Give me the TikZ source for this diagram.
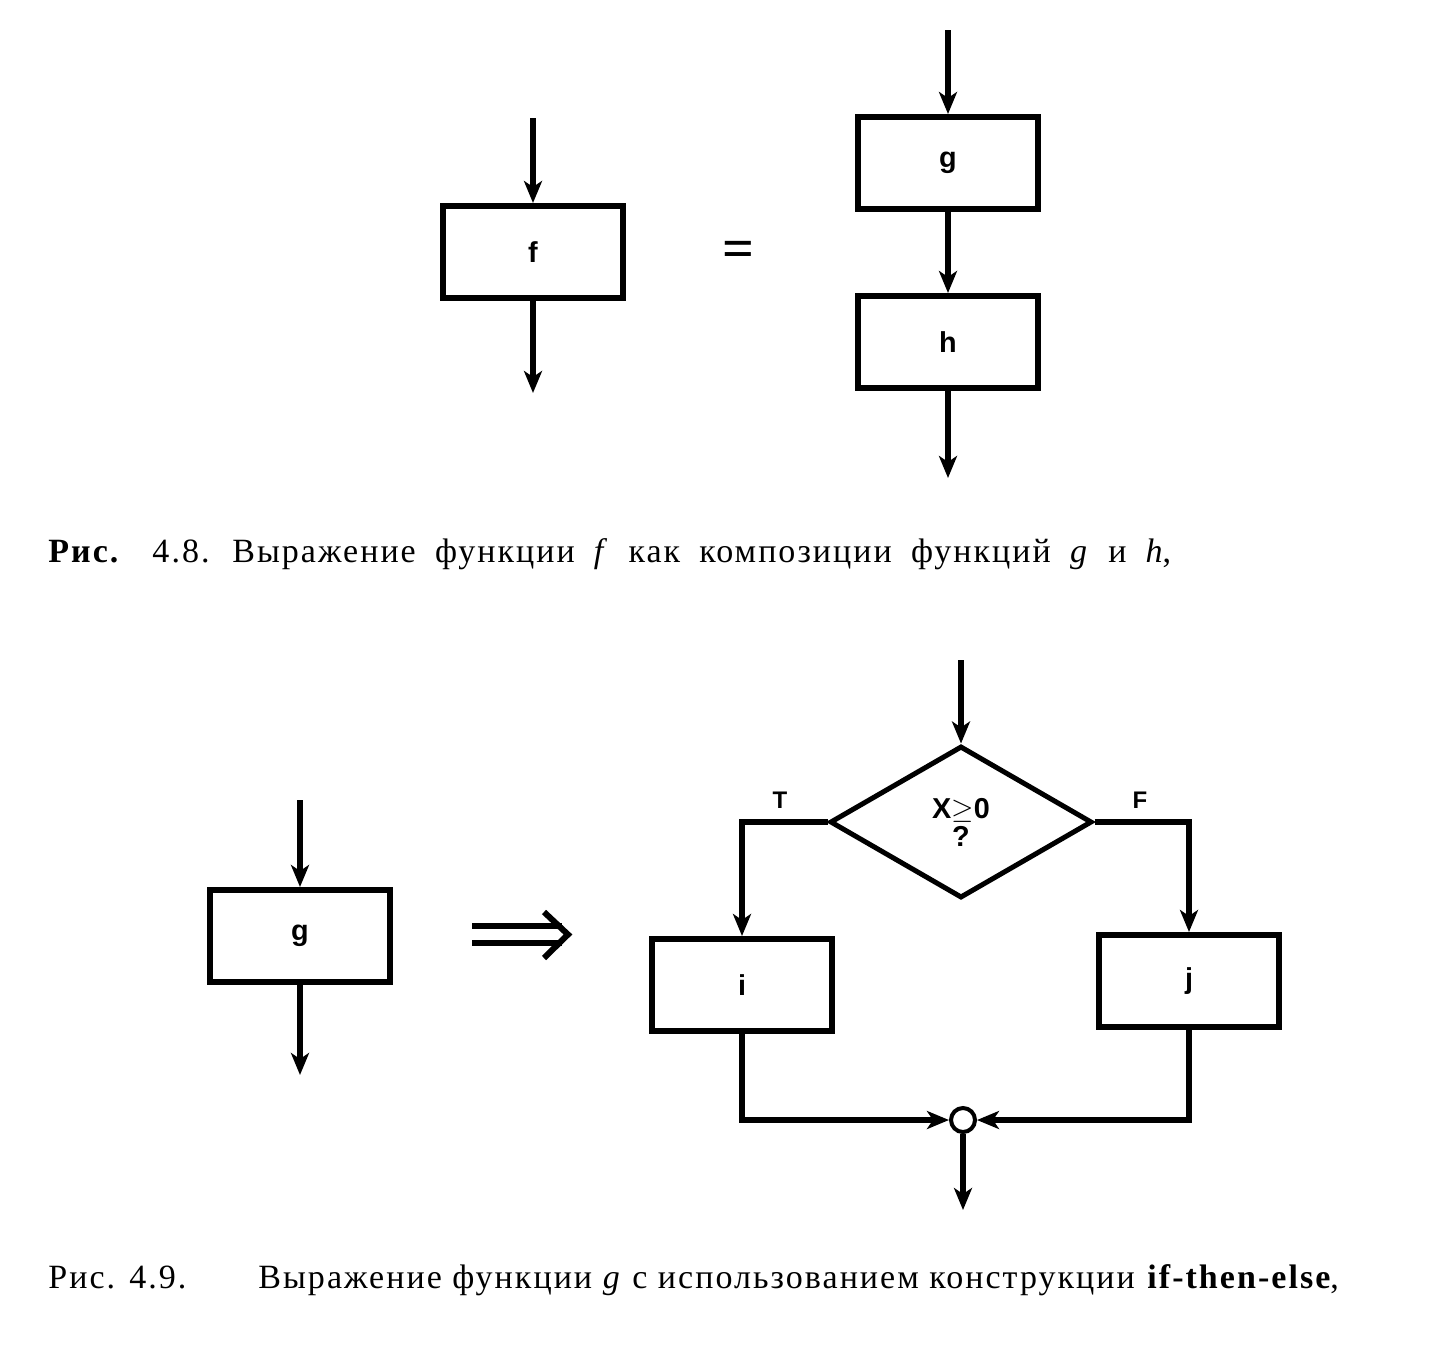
\documentclass[tikz,border=0pt]{standalone}
\usepackage{fontspec}
\setmainfont{Liberation Serif}
\setsansfont{Liberation Sans}
\newfontfamily\capfont[LetterSpace=6]{Liberation Serif}
\usepackage{tikz}
\usetikzlibrary{positioning}
\usetikzlibrary{arrows,arrows.meta,shapes}
\usetikzlibrary{shapes.geometric}
\tikzstyle{block}=[rectangle,draw,line width=3pt,minimum width=90pt,minimum height=46pt,inner sep=0pt,font=\sffamily\bfseries\Large]
\tikzstyle{edge} = [draw,line width=3pt,-{Stealth[length=11pt,width=9pt,inset=3pt]}]
\tikzstyle{undirectededge} = [draw,line width=3pt]
\tikzstyle{decision}=[diamond,draw,line width=2.5pt,minimum width=131pt,minimum height=76pt,inner sep=0pt,align=center,font=\sffamily\bfseries\Large]
\tikzstyle{joint}=[circle,draw,line width=2pt,minimum size=12pt,inner sep=0pt]
\tikzstyle{branch}=[font=\sffamily\bfseries\large]
\tikzset{capt/.style={anchor=base west,inner sep=0pt,font=\capfont\fontsize{17}{20}\selectfont}}

\begin{document}
\begin{tikzpicture}[x=0.5pt,y=-0.5pt]
    \useasboundingbox (0,0) rectangle (1456,1351);

%fig 4.8
    \foreach \pos/\name/\label in {{(533,252)/f/f}, {(948,163)/g/g}, {(948,342)/h/h}}
        \node[block] (\name) at \pos {\label};
    \node[font=\fontsize{28}{28}\selectfont\bfseries] (eq) at (738,254) {=};

    \coordinate (fin) at (533,118);
    \coordinate (fout) at (533,393);
    \coordinate (gin) at (948,30);
    \coordinate (hout) at (948,478);

    \foreach \source/ \dest in {fin/f, f/fout, gin/g, g/h, h/hout}
        \path[edge] (\source) -- (\dest);

    \node[capt] (cap1) at (48,562) {\spaceskip=9.6pt plus 1pt{\bfseries Рис.}\quad 4.8. Выражение функции \textit{f} как композиции функций \textit{g} и \textit{h},};

%fig 4.9
    \node[block] (g2) at (300,936) {g};

    % double arrow
    \foreach \name/\y in {upA/926, loA/943}
        \coordinate (\name) at (472,\y);
    \foreach \name/\y in {upB/926, loB/943}
        \coordinate (\name) at (562,\y);
    \coordinate (tipT) at (544,912);
    \coordinate (tipM) at (568,934.5);
    \coordinate (tipB) at (544,958);
    \path[undirectededge] (upA) -- (upB);
    \path[undirectededge] (loA) -- (loB);
    \path[undirectededge,line join=miter] (tipT) -- (tipM) -- (tipB);

    \node[decision] (cond) at (961,822) {X$\geq$0\\[-4pt]?};
    \foreach \pos/\name/\label in {{(742,985)/i/i}, {(1189,981)/j/j}}
        \node[block] (\name) at \pos {\label};
    \node[joint] (join) at (963,1120) {};

    \coordinate (g2in) at (300,800);
    \coordinate (g2out) at (300,1075);
    \coordinate (cin) at (961,660);
    \coordinate (jout) at (963,1210);

    \foreach \source/ \dest in {g2in/g2, g2/g2out, cin/cond, join/jout}
        \path[edge] (\source) -- (\dest);

    % branches
    \path[edge] (cond.west) -| (i);
    \path[edge] (cond.east) -| (j);
    \path[edge] (i) |- (join);
    \path[edge] (j) |- (join);

    \node[branch] (T) at (780,800) {T};
    \node[branch] (F) at (1140,800) {F};

    \node[capt] (cap2a) at (48,1288) {Рис. 4.9.};
    \node[capt] (cap2b) at (258,1288) {Выражение функции \textit{g} с использованием конструкции \textbf{if-then-else},};

\end{tikzpicture}
\end{document}
